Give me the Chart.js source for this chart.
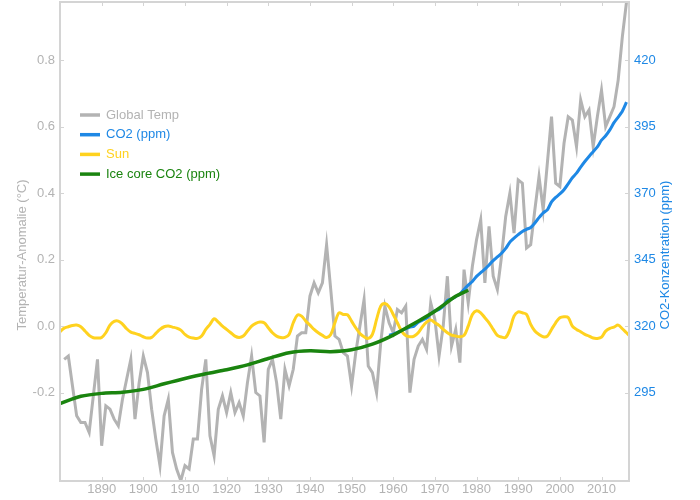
<!DOCTYPE html>
<html>
<head>
<meta charset="utf-8">
<script src="https://cdn.jsdelivr.net/npm/chart.js@4/dist/chart.umd.min.js"></script>
<style>
  body { margin: 0; background: #fff; }
  #wrap { width: 700px; height: 500px; }
</style>
</head>
<body>
<div id="wrap"><canvas id="chart" width="700" height="500"></canvas></div>
<script>
// Globale Temperatur-Anomalie (°C)
const tempYears = [];
for (let y = 1881; y <= 2016; y++) tempYears.push(y);
const tempValues = [
  -0.10, -0.09, -0.18, -0.27, -0.29, -0.29, -0.32, -0.21, -0.10, -0.36,
  -0.24, -0.25, -0.28, -0.30, -0.22, -0.16, -0.10, -0.28, -0.17, -0.09,
  -0.14, -0.25, -0.34, -0.42, -0.27, -0.22, -0.38, -0.43, -0.465, -0.42,
  -0.43, -0.34, -0.34, -0.19, -0.10, -0.33, -0.39, -0.25, -0.21, -0.26,
  -0.20, -0.26, -0.23, -0.27, -0.17, -0.09, -0.20, -0.21, -0.35, -0.13,
  -0.10, -0.17, -0.28, -0.13, -0.18, -0.13, -0.03, -0.02, -0.02, 0.09,
  0.13, 0.10, 0.13, 0.245, 0.11, -0.03, -0.04, -0.08, -0.09, -0.18,
  -0.08, 0.00, 0.08, -0.12, -0.14, -0.20, -0.05, 0.06, 0.01, -0.02,
  0.05, 0.04, 0.06, -0.20, -0.10, -0.06, -0.04, -0.07, 0.07, 0.02,
  -0.09, 0.00, 0.15, -0.06, -0.01, -0.11, 0.17, 0.07, 0.18, 0.26,
  0.32, 0.13, 0.30, 0.15, 0.11, 0.21, 0.33, 0.40, 0.28, 0.44,
  0.43, 0.235, 0.245, 0.35, 0.45, 0.35, 0.49, 0.63, 0.43, 0.42,
  0.55, 0.63, 0.62, 0.54, 0.68, 0.63, 0.65, 0.54, 0.63, 0.71,
  0.60, 0.63, 0.66, 0.74, 0.87, 0.975
];

// CO2 Mauna Loa (ppm)
const co2Years = [];
for (let y = 1959; y <= 2016; y++) co2Years.push(y);
const co2Values = [
  316.6, 317.0, 317.6, 318.4, 319.0, 319.6, 320.0, 321.4, 322.2, 323.0,
  324.6, 325.7, 326.3, 327.5, 329.7, 330.2, 331.1, 332.0, 333.8, 335.4,
  336.8, 338.7, 340.1, 341.4, 343.0, 344.6, 346.0, 347.4, 349.2, 351.6,
  353.1, 354.4, 355.6, 356.4, 357.1, 358.8, 360.8, 362.6, 363.7, 366.7,
  368.4, 369.7, 371.3, 373.5, 375.8, 377.5, 379.8, 381.9, 383.8, 385.6,
  387.4, 389.9, 391.6, 393.8, 396.5, 398.6, 400.8, 404.2
];

// Sonne (skaliert auf linke Achse)
const sunYears = [];
for (let y = 1880; y <= 2016; y++) sunYears.push(y);
sunYears.push(2016.6);
const sunValues = [
  -0.017, -0.006, -0.002, 0.002, 0.003, -0.002, -0.015, -0.028, -0.035, -0.036,
  -0.034, -0.020, 0.003, 0.014, 0.015, 0.006, -0.008, -0.018, -0.022, -0.026,
  -0.032, -0.036, -0.034, -0.022, -0.010, -0.002, 0.000, -0.003, -0.006, -0.012,
  -0.025, -0.033, -0.036, -0.037, -0.030, -0.010, 0.005, 0.022, 0.012, 0.000,
  -0.010, -0.020, -0.030, -0.034, -0.030, -0.015, 0.000, 0.008, 0.012, 0.010,
  -0.005, -0.020, -0.030, -0.034, -0.034, -0.025, 0.010, 0.033, 0.030, 0.015,
  0.003, -0.010, -0.020, -0.028, -0.034, -0.025, 0.010, 0.040, 0.035, 0.034,
  0.015, -0.005, -0.022, -0.032, -0.037, -0.025, 0.020, 0.060, 0.068, 0.058,
  0.035, 0.010, -0.015, -0.028, -0.032, -0.030, -0.020, -0.002, 0.012, 0.018,
  0.010, 0.002, -0.010, -0.020, -0.027, -0.030, -0.032, -0.028, 0.000, 0.035,
  0.046, 0.040, 0.025, 0.010, -0.010, -0.028, -0.033, -0.034, -0.010, 0.030,
  0.043, 0.040, 0.035, 0.005, -0.015, -0.025, -0.032, -0.030, -0.010, 0.010,
  0.025, 0.028, 0.026, 0.000, -0.010, -0.017, -0.025, -0.030, -0.036, -0.037,
  -0.033, -0.015, -0.007, -0.003, 0.003, -0.008, -0.020, -0.027
];

// Eisbohrkern CO2 (ppm)
const iceYears = [1880, 1885, 1890, 1895, 1900, 1905, 1910, 1915, 1920, 1925, 1930,
  1935, 1940, 1945, 1950, 1955, 1960, 1965, 1970, 1975, 1978];
const iceValues = [290.9, 293.6, 294.7, 295.1, 296.2, 298.3, 300.3, 302.1, 303.6, 305.4, 307.8,
  310.0, 310.7, 310.4, 311.1, 313.2, 316.6, 321.0, 325.6, 331.2, 333.5];

const xTicks = [1890, 1900, 1910, 1920, 1930, 1940, 1950, 1960, 1970, 1980, 1990, 2000, 2010];
const leftTicks = [-0.2, 0.0, 0.2, 0.4, 0.6, 0.8];
const rightTicks = [295, 320, 345, 370, 395, 420];

const GRAU = '#b3b3b3';
const BLAU = '#1e88e5';
const GELB = '#ffd21f';
const GRUEN = '#1a840f';
const RAHMEN = '#d4d4d4';
const FONT = "'Liberation Sans', Arial, sans-serif";

const legende = [
  { text: 'Global Temp', color: GRAU },
  { text: 'CO2 (ppm)', color: BLAU },
  { text: 'Sun', color: GELB },
  { text: 'Ice core CO2 (ppm)', color: GRUEN }
];

function punkte(xs, ys) {
  return xs.map((x, i) => ({ x: x, y: ys[i] }));
}

// keine Extra-Abstände der Achsen, damit die Zeichenfläche genau sitzt
function ohnePadding(s) {
  s.paddingTop = 0; s.paddingBottom = 0; s.paddingLeft = 0; s.paddingRight = 0;
}

// Rahmen, Ticks nach innen, Achsentitel und Legende
const deko = {
  id: 'deko',
  afterDraw(chart) {
    const ctx = chart.ctx;
    const a = chart.chartArea;
    const sx = chart.scales.x, sy = chart.scales.y, sy2 = chart.scales.y2;
    ctx.save();
    ctx.strokeStyle = RAHMEN;
    ctx.lineWidth = 2;
    ctx.strokeRect(a.left, a.top, a.right - a.left, a.bottom - a.top);

    ctx.lineWidth = 1;
    ctx.beginPath();
    xTicks.forEach(v => {
      const px = Math.round(sx.getPixelForValue(v)) + 0.5;
      ctx.moveTo(px, a.bottom); ctx.lineTo(px, a.bottom - 4);
      ctx.moveTo(px, a.top); ctx.lineTo(px, a.top + 4);
    });
    leftTicks.forEach(v => {
      const py = Math.round(sy.getPixelForValue(v)) + 0.5;
      ctx.moveTo(a.left, py); ctx.lineTo(a.left + 4, py);
    });
    rightTicks.forEach(v => {
      const py = Math.round(sy2.getPixelForValue(v)) + 0.5;
      ctx.moveTo(a.right, py); ctx.lineTo(a.right - 4, py);
    });
    ctx.stroke();

    // Achsentitel
    ctx.font = '13px ' + FONT;
    ctx.textAlign = 'center';
    ctx.textBaseline = 'middle';
    ctx.save();
    ctx.translate(22, 255);
    ctx.rotate(-Math.PI / 2);
    ctx.fillStyle = GRAU;
    ctx.fillText('Temperatur-Anomalie (°C)', 0, 0);
    ctx.restore();
    ctx.save();
    ctx.translate(665, 255);
    ctx.rotate(-Math.PI / 2);
    ctx.fillStyle = BLAU;
    ctx.fillText('CO2-Konzentration (ppm)', 0, 0);
    ctx.restore();

    // Legende
    ctx.textAlign = 'left';
    legende.forEach((l, i) => {
      const y = 115 + i * 19.7;
      ctx.strokeStyle = l.color;
      ctx.lineWidth = 3.5;
      ctx.beginPath();
      ctx.moveTo(80, y); ctx.lineTo(100, y);
      ctx.stroke();
      ctx.fillStyle = l.color;
      ctx.fillText(l.text, 106, y);
    });
    ctx.restore();
  }
};

const ctx = document.getElementById('chart').getContext('2d');
new Chart(ctx, {
  type: 'line',
  data: {
    datasets: [
      { label: 'Global Temp', data: punkte(tempYears, tempValues), yAxisID: 'y',
        borderColor: GRAU, borderWidth: 3, order: 4 },
      { label: 'CO2 (ppm)', data: punkte(co2Years, co2Values), yAxisID: 'y2',
        borderColor: BLAU, borderWidth: 3, order: 3, tension: 0.2 },
      { label: 'Sun', data: punkte(sunYears, sunValues), yAxisID: 'y',
        borderColor: GELB, borderWidth: 3, order: 2, tension: 0.35 },
      { label: 'Ice core CO2 (ppm)', data: punkte(iceYears, iceValues), yAxisID: 'y2',
        borderColor: GRUEN, borderWidth: 3.5, order: 1, tension: 0.3 }
    ]
  },
  options: {
    responsive: false,
    animation: false,
    devicePixelRatio: 1,
    layout: { padding: { top: 2, left: 0, right: 0, bottom: 0 } },
    elements: { point: { radius: 0 }, line: { fill: false } },
    plugins: { legend: { display: false }, tooltip: { enabled: false } },
    scales: {
      x: {
        type: 'linear', min: 1880, max: 2016.6,
        grid: { display: false, drawTicks: false },
        border: { display: false },
        afterBuildTicks: s => { s.ticks = xTicks.map(v => ({ value: v })); },
        afterFit: s => { s.height = 19; ohnePadding(s); },
        ticks: { color: GRAU, padding: 1, maxRotation: 0, autoSkip: false,
          font: { family: FONT, size: 13 }, callback: v => String(v) }
      },
      y: {
        type: 'linear', position: 'left', min: -0.466, max: 0.975,
        grid: { display: false, drawTicks: false },
        border: { display: false },
        afterBuildTicks: s => { s.ticks = leftTicks.map(v => ({ value: v })); },
        afterFit: s => { s.width = 60; ohnePadding(s); },
        ticks: { color: GRAU, padding: 5,
          font: { family: FONT, size: 13 }, callback: v => v.toFixed(1) }
      },
      y2: {
        type: 'linear', position: 'right', min: 261.75, max: 441.875,
        grid: { display: false, drawTicks: false },
        border: { display: false },
        afterBuildTicks: s => { s.ticks = rightTicks.map(v => ({ value: v })); },
        afterFit: s => { s.width = 71; ohnePadding(s); },
        ticks: { color: BLAU, padding: 5,
          font: { family: FONT, size: 13 }, callback: v => String(v) }
      }
    }
  },
  plugins: [deko]
});
</script>
</body>
</html>
